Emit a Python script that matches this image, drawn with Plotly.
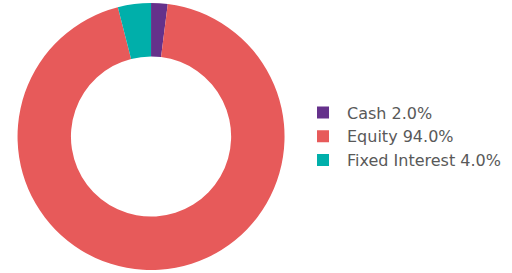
import plotly.graph_objects as go

labels = ["Cash 2.0%", "Equity 94.0%", "Fixed Interest 4.0%"]
values = [2.0, 94.0, 4.0]
colors = ["#65318B", "#E75A5A", "#00AFAA"]

fig = go.Figure(go.Pie(
    labels=labels,
    values=values,
    hole=0.6,
    sort=False,
    direction="clockwise",
    rotation=0,
    marker=dict(colors=colors, line=dict(color="white", width=0)),
    textinfo="none",
    hoverinfo="label",
    domain=dict(x=[0.0, 0.59], y=[0, 1]),
))

fig.update_layout(
    width=512, height=273,
    margin=dict(l=0, r=0, t=3, b=3),
    paper_bgcolor="white",
    plot_bgcolor="white",
    showlegend=True,
    legend=dict(
        x=0.584, xanchor="left",
        y=0.5, yanchor="middle",
        font=dict(family="DejaVu Sans, sans-serif", size=16, color="#595959"),
        itemwidth=38,
        bgcolor="rgba(0,0,0,0)",
    ),
)

fig.write_html(
    "out.html",
    config={"displayModeBar": False},
    post_script="document.body.style.margin='0';document.body.style.padding='0';",
)
